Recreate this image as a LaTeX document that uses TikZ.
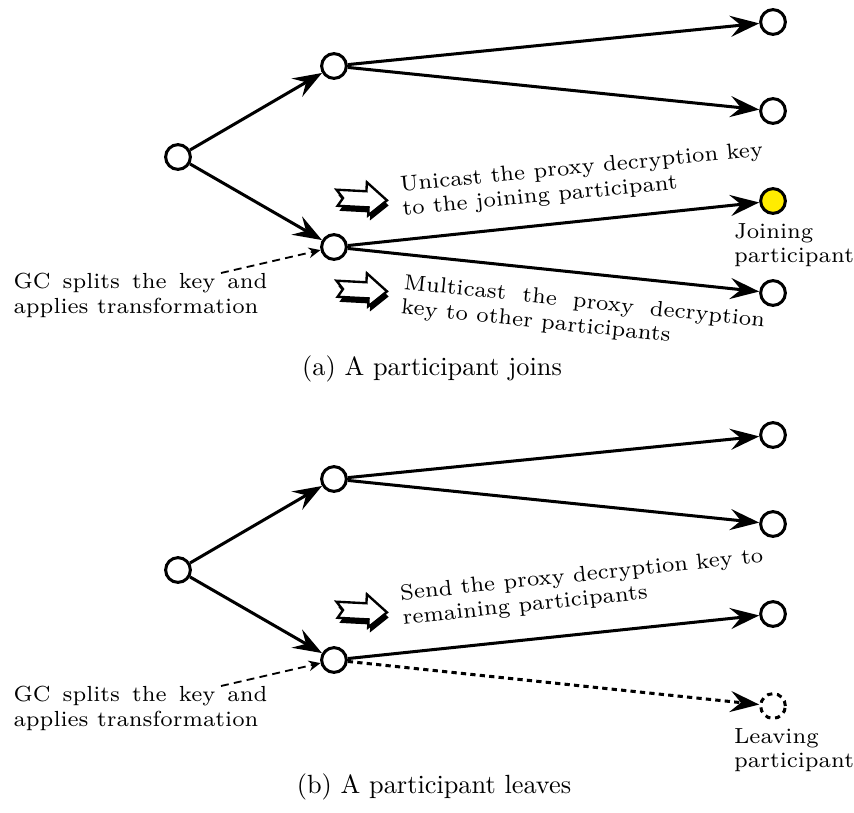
\documentclass[tikz,border=0pt]{standalone}
\usepackage{fontspec}
\usetikzlibrary{arrows.meta,positioning}
\newfontfamily\notefont{lmroman7-regular.otf}
\definecolor{joinyellow}{RGB}{255,236,0}

\tikzset{
  peer/.style={circle,draw,line width=1.15pt,fill=white,minimum size=9.4pt,inner sep=0pt},
  link/.style={line width=1.15pt,-{Stealth[length=11pt,width=8pt,inset=4pt]}},
  gone/.style={link,dash pattern=on 2pt off 1.6pt},
  hint/.style={line width=0.7pt,dash pattern=on 3pt off 2pt,-{Stealth[length=4.5pt,width=4pt,inset=1.5pt]}},
  note/.style={font={\notefont\fontsize{8.3}{9.3}\selectfont},align=left,inner sep=0pt},
  gcnote/.style={note,text width=96.5pt,align=justify},
  blockarrow/.pic={
    \fill[shift={(2,5)}] (-25,-8) -- (5,-8) -- (5,-17) -- (26,0) -- (8,16) -- (8,8) -- (-23,8) -- (-18,0) -- cycle;
    \filldraw[fill=white,line width=0.9pt] (-25,-8) -- (5,-8) -- (5,-17) -- (26,0) -- (8,16) -- (8,8) -- (-23,8) -- (-18,0) -- cycle;
  }
}

\begin{document}
\begin{tikzpicture}[x=0.38pt,y=-0.38pt]
    \useasboundingbox (0,0) rectangle (854,812);
    % (a) a participant joins
    \node[peer] (rA) at (178,157) {};
    \node[peer] (uA) at (334,66) {};
    \node[peer] (lA) at (334,247) {};
    \node[peer] (pA1) at (773,22) {};
    \node[peer] (pA2) at (773,111) {};
    \node[peer,fill=joinyellow] (pA3) at (773,201) {};
    \node[peer] (pA4) at (773,293) {};
    \draw[link] (rA) -- (uA);
    \draw[link] (rA) -- (lA);
    \draw[link] (uA) -- (pA1);
    \draw[link] (uA) -- (pA2);
    \draw[link] (lA) -- (pA3);
    \draw[link] (lA) -- (pA4);
    \node[note,below right=3pt and -15pt of pA3.south] (joinA) {Joining\\participant};
    % key messages
    \pic[rotate=-3] (uniA) at (361,199) {blockarrow};
    \node[note,rotate=5.5,anchor=west] (uniTxt) at (401,198) {Unicast the proxy decryption key\\to the joining participant};
    \pic[rotate=-3] (mulA) at (361,290) {blockarrow};
    \node[note,rotate=-6,anchor=west,text width=138pt,align=justify] (mulTxt) at (402,296) {Multicast the proxy decryption key to other participants};
    % GC
    \node[gcnote,anchor=north west] (gcA) at (13,273) {GC splits the key and applies transformation};
    \coordinate (gcAs) at (221,273);
    \draw[hint] (gcAs) -- (lA);
    \node (capA) at (432,369) {(a) A participant joins};

    % (b) a participant leaves
    \begin{scope}[shift={(0,413)}]
    \node[peer] (rB) at (178,157) {};
    \node[peer] (uB) at (334,66) {};
    \node[peer] (lB) at (334,247) {};
    \node[peer] (pB1) at (773,22) {};
    \node[peer] (pB2) at (773,111) {};
    \node[peer] (pB3) at (773,201) {};
    \node[peer,dash pattern=on 2pt off 1.8pt] (pB4) at (773,293) {};
    \draw[link] (rB) -- (uB);
    \draw[link] (rB) -- (lB);
    \draw[link] (uB) -- (pB1);
    \draw[link] (uB) -- (pB2);
    \draw[link] (lB) -- (pB3);
    \draw[gone] (lB) -- (pB4);
    \node[note,below right=3pt and -15pt of pB4.south] (leaveB) {Leaving\\participant};
    \pic[rotate=-3] (sndB) at (361,198) {blockarrow};
    \node[note,rotate=6,anchor=west] (sndTxt) at (401,194) {Send the proxy decryption key to\\remaining participants};
    \node[gcnote,anchor=north west] (gcB) at (13,273) {GC splits the key and applies transformation};
    \coordinate (gcBs) at (221,273);
    \draw[hint] (gcBs) -- (lB);
    \node (capB) at (434,374) {(b) A participant leaves};
    \end{scope}
\end{tikzpicture}
\end{document}
